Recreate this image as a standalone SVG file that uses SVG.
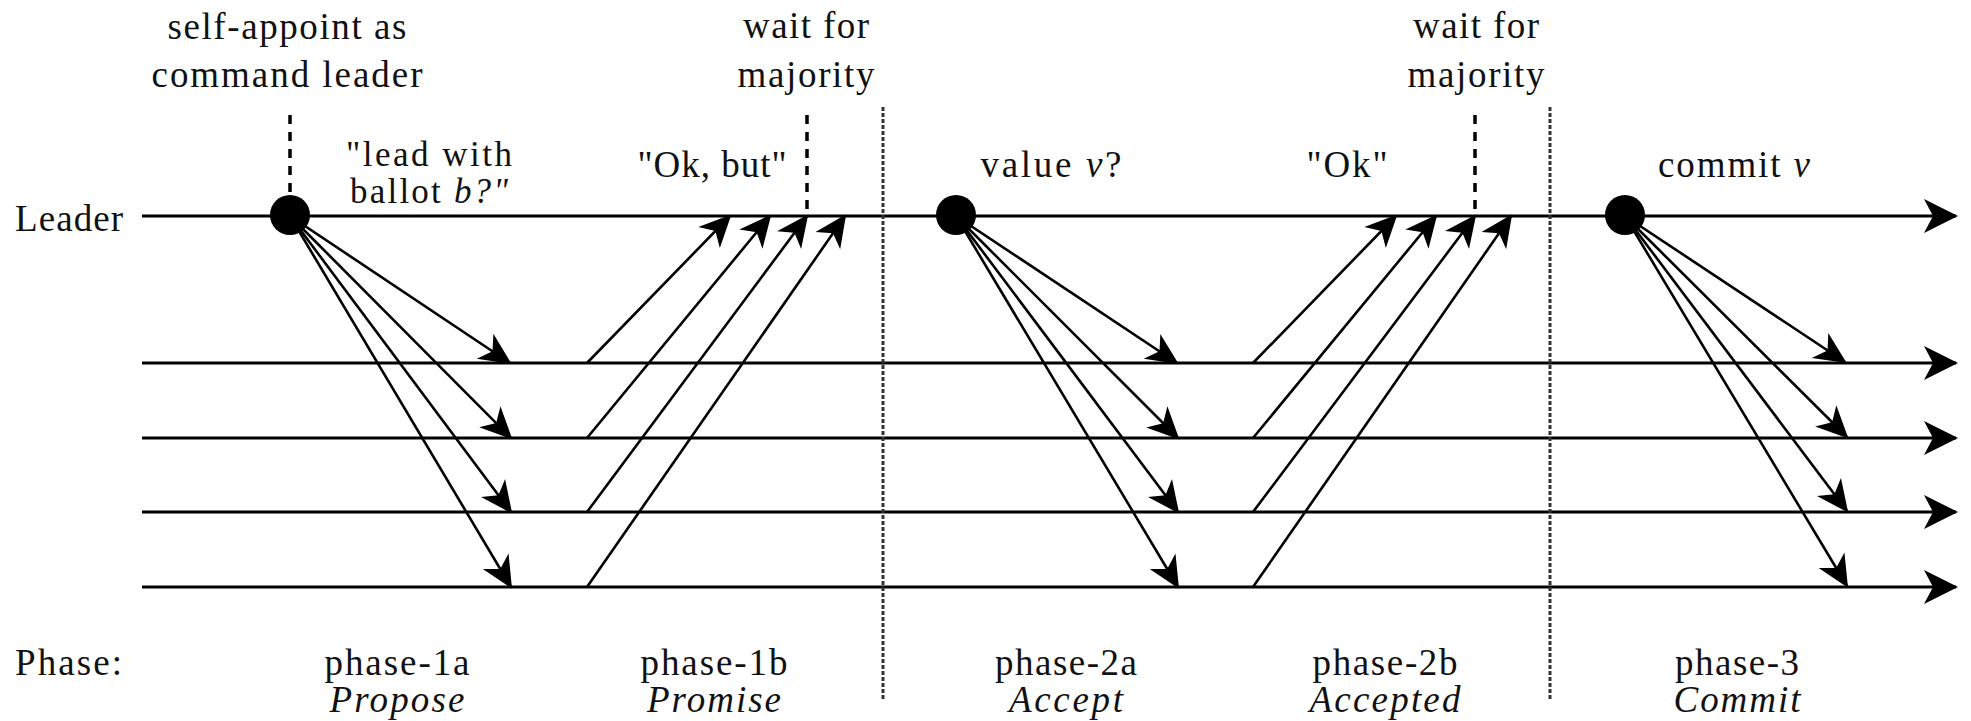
<svg xmlns="http://www.w3.org/2000/svg" width="1971" height="721" viewBox="0 0 1971 721">
  <style>
    text { font-family: 'Liberation Serif', 'Times New Roman', Times, serif; font-size: 37px; fill: #111; }
    .mid { text-anchor: middle; }
    .it { font-style: italic; }
    .tight { font-size: 35px; }
    .timeline { stroke: #000; stroke-width: 3; fill: none; marker-end: url(#bigArrow); }
    .msg { stroke: #000; stroke-width: 2.6; fill: none; marker-end: url(#msgArrow); }
    .wait { stroke: #000; stroke-width: 3.5; stroke-dasharray: 9 8; fill: none; }
    .sep { stroke: #333; stroke-width: 3; stroke-dasharray: 4 2; fill: none; }
    .dot { fill: #000; }
  </style>
  <defs>
    <marker id="msgArrow" markerUnits="userSpaceOnUse" markerWidth="40" markerHeight="40" refX="0" refY="0" viewBox="-34 -20 40 40" orient="auto" overflow="visible">
      <path d="M2,0 L-30,-15 L-21,0 L-30,15 Z" fill="#000"/>
    </marker>
    <marker id="bigArrow" markerUnits="userSpaceOnUse" markerWidth="44" markerHeight="44" refX="0" refY="0" viewBox="-36 -22 44 44" orient="auto" overflow="visible">
      <path d="M2,0 L-32,-17 L-23,0 L-32,17 Z" fill="#000"/>
    </marker>
  </defs>

  <rect width="1971" height="721" fill="#fff"/>

  <!-- process timelines -->
  <g id="timelines">
    <line id="leader-line" class="timeline" x1="142" y1="216" x2="1956" y2="216"/>
    <line id="acceptor-1" class="timeline" x1="142" y1="363" x2="1956" y2="363"/>
    <line id="acceptor-2" class="timeline" x1="142" y1="438" x2="1956" y2="438"/>
    <line id="acceptor-3" class="timeline" x1="142" y1="512" x2="1956" y2="512"/>
    <line id="acceptor-4" class="timeline" x1="142" y1="587" x2="1956" y2="587"/>
  </g>

  <!-- phase separators and wait markers -->
  <g id="separators">
    <line class="sep" x1="883" y1="107" x2="883" y2="700"/>
    <line class="sep" x1="1550" y1="107" x2="1550" y2="700"/>
    <line class="wait" x1="290" y1="115" x2="290" y2="198"/>
    <line class="wait" x1="807" y1="115" x2="807" y2="216"/>
    <line class="wait" x1="1475" y1="115" x2="1475" y2="216"/>
  </g>

  <!-- messages -->
  <g id="connectors">
    <!-- phase-1a: prepare broadcast -->
    <line class="msg" x1="290" y1="216" x2="510" y2="363"/>
    <line class="msg" x1="290" y1="216" x2="511" y2="438"/>
    <line class="msg" x1="290" y1="216" x2="511" y2="512"/>
    <line class="msg" x1="290" y1="216" x2="511" y2="587"/>
    <!-- phase-1b: promises -->
    <line class="msg" x1="587" y1="363" x2="730" y2="216"/>
    <line class="msg" x1="587" y1="438" x2="770" y2="216"/>
    <line class="msg" x1="587" y1="512" x2="807" y2="216"/>
    <line class="msg" x1="587" y1="587" x2="845" y2="216"/>
    <!-- phase-2a: accept broadcast -->
    <line class="msg" x1="956" y1="216" x2="1177" y2="363"/>
    <line class="msg" x1="956" y1="216" x2="1178" y2="438"/>
    <line class="msg" x1="956" y1="216" x2="1178" y2="512"/>
    <line class="msg" x1="956" y1="216" x2="1178" y2="587"/>
    <!-- phase-2b: accepted replies -->
    <line class="msg" x1="1253" y1="363" x2="1396" y2="216"/>
    <line class="msg" x1="1253" y1="438" x2="1436" y2="216"/>
    <line class="msg" x1="1253" y1="512" x2="1475" y2="216"/>
    <line class="msg" x1="1253" y1="587" x2="1511" y2="216"/>
    <!-- phase-3: commit broadcast -->
    <line class="msg" x1="1625" y1="216" x2="1845" y2="362"/>
    <line class="msg" x1="1625" y1="216" x2="1847" y2="437"/>
    <line class="msg" x1="1625" y1="216" x2="1847" y2="511"/>
    <line class="msg" x1="1625" y1="216" x2="1847" y2="586"/>
  </g>

  <!-- leader events -->
  <g id="event-prepare"><circle class="dot" cx="290" cy="215" r="20"/></g>
  <g id="event-accept"><circle class="dot" cx="956" cy="215" r="20"/></g>
  <g id="event-commit"><circle class="dot" cx="1625" cy="215" r="20"/></g>

  <!-- annotations -->
  <g id="label-self-appoint">
    <text class="mid" x="287" y="39" textLength="239" lengthAdjust="spacing">self-appoint as</text>
    <text class="mid" x="287" y="87" textLength="271" lengthAdjust="spacing">command leader</text>
  </g>
  <g id="label-lead-with">
    <text class="mid tight" x="429" y="166" textLength="166" lengthAdjust="spacing">"lead with</text>
    <text class="mid tight" x="429" y="203" textLength="158" lengthAdjust="spacing">ballot <tspan class="it">b?"</tspan></text>
  </g>
  <g id="label-ok-but"><text class="mid" x="712" y="177" textLength="149" lengthAdjust="spacing">"Ok, but"</text></g>
  <g id="label-wait-1">
    <text class="mid" x="806" y="38" textLength="126" lengthAdjust="spacing">wait for</text>
    <text class="mid" x="806" y="87" textLength="137" lengthAdjust="spacing">majority</text>
  </g>
  <g id="label-value"><text class="mid" x="1051" y="177" textLength="141" lengthAdjust="spacing">value <tspan class="it">v</tspan>?</text></g>
  <g id="label-ok"><text class="mid" x="1347" y="177" textLength="81" lengthAdjust="spacing">"Ok"</text></g>
  <g id="label-wait-2">
    <text class="mid" x="1476" y="38" textLength="126" lengthAdjust="spacing">wait for</text>
    <text class="mid" x="1476" y="87" textLength="137" lengthAdjust="spacing">majority</text>
  </g>
  <g id="label-commit"><text class="mid" x="1734" y="177" textLength="152" lengthAdjust="spacing">commit <tspan class="it">v</tspan></text></g>

  <g id="label-leader"><text x="15" y="231" textLength="108" lengthAdjust="spacing">Leader</text></g>

  <!-- phase names -->
  <g id="label-phase"><text x="15" y="675" textLength="107" lengthAdjust="spacing">Phase:</text></g>
  <g id="phase-1a">
    <text class="mid" x="397" y="675" textLength="145" lengthAdjust="spacing">phase-1a</text>
    <text class="mid it" x="397" y="712" textLength="135" lengthAdjust="spacing">Propose</text>
  </g>
  <g id="phase-1b">
    <text class="mid" x="714" y="675" textLength="147" lengthAdjust="spacing">phase-1b</text>
    <text class="mid it" x="714" y="712" textLength="134" lengthAdjust="spacing">Promise</text>
  </g>
  <g id="phase-2a">
    <text class="mid" x="1066" y="675" textLength="142" lengthAdjust="spacing">phase-2a</text>
    <text class="mid it" x="1066" y="712" textLength="114" lengthAdjust="spacing">Accept</text>
  </g>
  <g id="phase-2b">
    <text class="mid" x="1385" y="675" textLength="145" lengthAdjust="spacing">phase-2b</text>
    <text class="mid it" x="1385" y="712" textLength="151" lengthAdjust="spacing">Accepted</text>
  </g>
  <g id="phase-3">
    <text class="mid" x="1737" y="675" textLength="124" lengthAdjust="spacing">phase-3</text>
    <text class="mid it" x="1737" y="712" textLength="127" lengthAdjust="spacing">Commit</text>
  </g>
</svg>
